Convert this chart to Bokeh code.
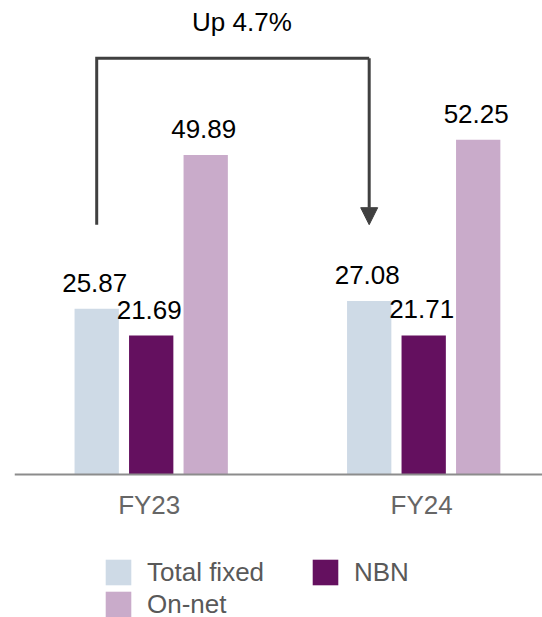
from bokeh.plotting import figure
from bokeh.models import (ColumnDataSource, Range1d, Legend, LegendItem,
                          Arrow, NormalHead, Label, Span)
from bokeh.core.properties import value
from bokeh.embed import file_html
from bokeh.resources import INLINE

# ---- data -------------------------------------------------------------
years = ["FY23", "FY24"]
series = ["Total fixed", "NBN", "On-net"]
total_fixed = [25.87, 27.08]
nbn = [21.69, 21.71]
on_net = [49.89, 52.25]

colors = ["#CEDAE6", "#64105F", "#C9ABCA"]
FONT = "Liberation Sans"

# ---- figure -----------------------------------------------------------
# The plotting area fills the page; the space under y = 0 holds the
# category names and the legend.
p = figure(width=542, height=617, output_backend="svg", toolbar_location=None,
           x_range=Range1d(-0.5017, 1.436), y_range=Range1d(-22.33, 74),
           x_axis_location=None, y_axis_location=None,
           min_border_left=14, min_border_right=0, min_border_top=0, min_border_bottom=0)
p.outline_line_color = None
p.grid.visible = False
p.background_fill_color = "white"
p.border_fill_color = "white"

offsets = [-0.2, 0.0, 0.2]
bar_w = 0.1626
renderers = {}
for name, vals, off, col in zip(series, [total_fixed, nbn, on_net], offsets, colors):
    src = ColumnDataSource(dict(
        x=[i + off for i in range(len(years))],
        top=vals,
        label=[f"{v:.2f}" for v in vals],
    ))
    r = p.vbar(x="x", top="top", width=bar_w, fill_color=col, line_color=None, source=src)
    p.text(x="x", y="top", text="label", source=src, text_align="center",
           text_baseline="middle", y_offset=-26, x_offset=-2,
           text_font=value(FONT), text_font_size="26px", text_color="#000000")
    renderers[name] = r

# ---- baseline and category names --------------------------------------------
p.add_layout(Span(location=0, dimension="width", line_color="#8C8C8C", line_width=2))
cat_src = ColumnDataSource(dict(x=list(range(len(years))), y=[0] * len(years), text=years))
p.text(x="x", y="y", text="text", source=cat_src, text_align="center",
       text_baseline="middle", y_offset=31, x_offset=-2,
       text_font=value(FONT), text_font_size="26px", text_color="#666666")

# ---- growth bracket between the two "Total fixed" bars --------------------
pct = (total_fixed[1] / total_fixed[0] - 1) * 100
x_left = 0 + offsets[0]
x_right = 1 + offsets[0]
y_low, y_high = 39, 65
p.line(x=[x_left, x_left, x_right], y=[y_low, y_high, y_high],
       line_color="#404040", line_width=3, line_join="miter")
p.add_layout(Arrow(x_start=x_right, y_start=y_high, x_end=x_right, y_end=y_low,
                   line_color="#404040", line_width=3,
                   end=NormalHead(size=17, fill_color="#404040", line_color="#404040",
                                  line_width=1)))
p.add_layout(Label(x=(x_left + x_right) / 2, y=70.65, x_offset=9, text=f"Up {pct:.1f}%",
                   text_align="center", text_baseline="middle",
                   text_font=FONT, text_font_size="26px", text_color="#000000"))

# ---- legend: two columns, filled column by column -----------------------------
legend_order = ["Total fixed", "On-net", "NBN"]
legend = Legend(items=[LegendItem(label=s, renderers=[renderers[s]]) for s in legend_order],
                ncols=2, location=(88, -3), glyph_width=32, glyph_height=32,
                label_standoff=13, label_width=162, spacing=0, padding=0, margin=0,
                border_line_color=None, background_fill_alpha=0,
                label_text_font=FONT, label_text_font_size="26px",
                label_text_color="#595959")
p.add_layout(legend)

open("out.html", "w").write(file_html(p, INLINE))
